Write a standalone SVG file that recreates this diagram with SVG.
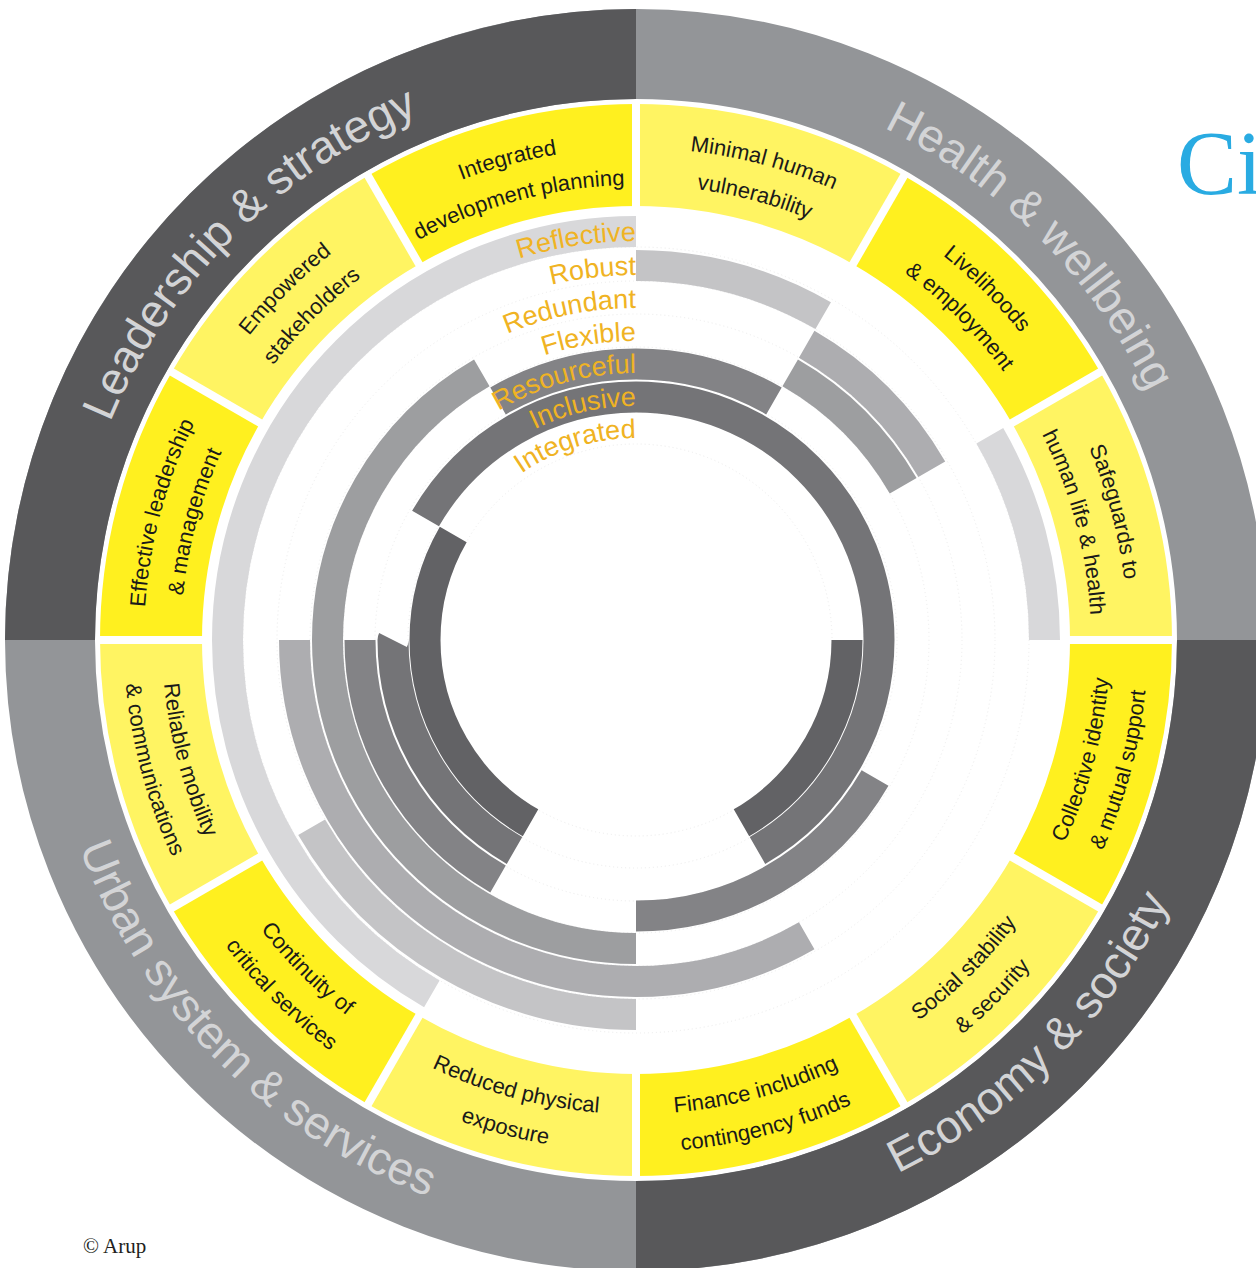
<svg xmlns="http://www.w3.org/2000/svg" width="1256" height="1268" viewBox="0 0 1256 1268">
<style>
.dk{fill:#58585a}
.ys{fill:none;stroke-width:102;stroke-dasharray:30 400}
.y1{stroke:#fff01f}
.y2{stroke:#fff462}
.b{fill:none;stroke-width:31}
.gap{stroke:#ffffff;stroke-width:8}
.guide{fill:none;stroke:#ececec;stroke-width:1;stroke-dasharray:1 3}
.lbl{font-family:"Liberation Sans",Arial,sans-serif;font-size:22px;fill:#1a1a1a;text-anchor:middle}
.ttl{font-family:"Liberation Sans",Arial,sans-serif;font-size:46px;fill:#d3d4d6;text-anchor:middle}
.bl{font-family:"Liberation Sans",Arial,sans-serif;font-size:27px;fill:#f0b323;stroke:none;text-anchor:end}
</style>
<defs>
<path id="tA" d="M 259.11 323.75 A 492 492 0 0 1 1012.89 323.75"/>
<path id="tB" d="M 287.45 347.53 A 455 455 0 0 1 984.55 347.53"/>
<path id="bA" d="M 272.90 944.68 A 474 474 0 0 0 999.10 944.68"/>
<path id="bB" d="M 243.79 969.11 A 512 512 0 0 0 1028.21 969.11"/>
<path id="pT" d="M 101.32 445.39 A 569 569 0 0 1 1170.68 445.39"/>
<path id="pB" d="M 77.82 843.16 A 594 594 0 0 0 1194.18 843.16"/>
<path id="r1" d="M 237 640 A 399 399 0 0 1 636 241"/>
<path id="r2" d="M 271 640 A 365 365 0 0 1 636 275"/>
<path id="r3" d="M 304 640 A 332 332 0 0 1 636 308"/>
<path id="r4" d="M 337 640 A 299 299 0 0 1 636 341"/>
<path id="r5" d="M 369 640 A 267 267 0 0 1 636 373"/>
<path id="r6" d="M 402 640 A 234 234 0 0 1 636 406"/>
<path id="r7" d="M 434 640 A 202 202 0 0 1 636 438"/>
<line id="gl" x1="1064" y1="640" x2="1176" y2="640"/>
</defs>
<rect width="1256" height="1268" fill="#ffffff"/>

<g id="outer-ring">
<circle cx="636" cy="640" r="586" fill="none" stroke="#939598" stroke-width="90"/>
</g>

<g id="q-leadership">
<path class="dk" d="M 5 640 A 631 631 0 0 1 636 9 L 636 99 A 541 541 0 0 0 95 640 Z"/>
<text class="ttl" transform="rotate(-45 636 640)"><textPath href="#pT" startOffset="50%">Leadership &amp; strategy</textPath></text>
</g>
<g id="q-health">
<text class="ttl" transform="rotate(45 636 640)"><textPath href="#pT" startOffset="50%">Health &amp; wellbeing</textPath></text>
</g>
<g id="q-economy">
<path class="dk" d="M 1267 640 A 631 631 0 0 1 636 1271 L 636 1181 A 541 541 0 0 0 1177 640 Z"/>
<text class="ttl" transform="rotate(-45 636 640)"><textPath href="#pB" startOffset="50%">Economy &amp; society</textPath></text>
</g>
<g id="q-urban">
<text class="ttl" transform="rotate(45 636 640)"><textPath href="#pB" startOffset="50%">Urban system &amp; services</textPath></text>
</g>

<g id="seg-collective">
<circle class="ys y1" cx="636" cy="640" r="485" pathLength="360" style="stroke-dashoffset:0"/>
<text class="lbl" transform="rotate(-75 636 640)"><textPath href="#bA" startOffset="50%">Collective identity</textPath></text>
<text class="lbl" transform="rotate(-75 636 640)"><textPath href="#bB" startOffset="50%">&amp; mutual support</textPath></text>
</g>
<g id="seg-social">
<circle class="ys y2" cx="636" cy="640" r="485" pathLength="360" style="stroke-dashoffset:-30"/>
<text class="lbl" transform="rotate(-45 636 640)"><textPath href="#bA" startOffset="50%">Social stability</textPath></text>
<text class="lbl" transform="rotate(-45 636 640)"><textPath href="#bB" startOffset="50%">&amp; security</textPath></text>
</g>
<g id="seg-finance">
<circle class="ys y1" cx="636" cy="640" r="485" pathLength="360" style="stroke-dashoffset:-60"/>
<text class="lbl" transform="rotate(-15 636 640)"><textPath href="#bA" startOffset="50%">Finance including</textPath></text>
<text class="lbl" transform="rotate(-15 636 640)"><textPath href="#bB" startOffset="50%">contingency funds</textPath></text>
</g>
<g id="seg-reduced">
<circle class="ys y2" cx="636" cy="640" r="485" pathLength="360" style="stroke-dashoffset:-90"/>
<text class="lbl" transform="rotate(15 636 640)"><textPath href="#bA" startOffset="50%">Reduced physical</textPath></text>
<text class="lbl" transform="rotate(15 636 640)"><textPath href="#bB" startOffset="50%">exposure</textPath></text>
</g>
<g id="seg-continuity">
<circle class="ys y1" cx="636" cy="640" r="485" pathLength="360" style="stroke-dashoffset:-120"/>
<text class="lbl" transform="rotate(45 636 640)"><textPath href="#bA" startOffset="50%">Continuity of</textPath></text>
<text class="lbl" transform="rotate(45 636 640)"><textPath href="#bB" startOffset="50%">critical services</textPath></text>
</g>
<g id="seg-reliable">
<circle class="ys y2" cx="636" cy="640" r="485" pathLength="360" style="stroke-dashoffset:-150"/>
<text class="lbl" transform="rotate(75 636 640)"><textPath href="#bA" startOffset="50%">Reliable mobility</textPath></text>
<text class="lbl" transform="rotate(75 636 640)"><textPath href="#bB" startOffset="50%">&amp; communications</textPath></text>
</g>
<g id="seg-effective">
<circle class="ys y1" cx="636" cy="640" r="485" pathLength="360" style="stroke-dashoffset:-180"/>
<text class="lbl" transform="rotate(-75 636 640)"><textPath href="#tA" startOffset="50%">Effective leadership</textPath></text>
<text class="lbl" transform="rotate(-75 636 640)"><textPath href="#tB" startOffset="50%">&amp; management</textPath></text>
</g>
<g id="seg-empowered">
<circle class="ys y2" cx="636" cy="640" r="485" pathLength="360" style="stroke-dashoffset:-210"/>
<text class="lbl" transform="rotate(-45 636 640)"><textPath href="#tA" startOffset="50%">Empowered</textPath></text>
<text class="lbl" transform="rotate(-45 636 640)"><textPath href="#tB" startOffset="50%">stakeholders</textPath></text>
</g>
<g id="seg-integrated-planning">
<circle class="ys y1" cx="636" cy="640" r="485" pathLength="360" style="stroke-dashoffset:-240"/>
<text class="lbl" transform="rotate(-15 636 640)"><textPath href="#tA" startOffset="50%">Integrated</textPath></text>
<text class="lbl" transform="rotate(-15 636 640)"><textPath href="#tB" startOffset="50%">development planning</textPath></text>
</g>
<g id="seg-minimal">
<circle class="ys y2" cx="636" cy="640" r="485" pathLength="360" style="stroke-dashoffset:-270"/>
<text class="lbl" transform="rotate(15 636 640)"><textPath href="#tA" startOffset="50%">Minimal human</textPath></text>
<text class="lbl" transform="rotate(15 636 640)"><textPath href="#tB" startOffset="50%">vulnerability</textPath></text>
</g>
<g id="seg-livelihoods">
<circle class="ys y1" cx="636" cy="640" r="485" pathLength="360" style="stroke-dashoffset:-300"/>
<text class="lbl" transform="rotate(45 636 640)"><textPath href="#tA" startOffset="50%">Livelihoods</textPath></text>
<text class="lbl" transform="rotate(45 636 640)"><textPath href="#tB" startOffset="50%">&amp; employment</textPath></text>
</g>
<g id="seg-safeguards">
<circle class="ys y2" cx="636" cy="640" r="485" pathLength="360" style="stroke-dashoffset:-330"/>
<text class="lbl" transform="rotate(75 636 640)"><textPath href="#tA" startOffset="50%">Safeguards to</textPath></text>
<text class="lbl" transform="rotate(75 636 640)"><textPath href="#tB" startOffset="50%">human life &amp; health</textPath></text>
</g>

<g id="segment-gaps" class="gap">
<use href="#gl"/>
<use href="#gl" transform="rotate(30 636 640)"/>
<use href="#gl" transform="rotate(60 636 640)"/>
<use href="#gl" transform="rotate(90 636 640)"/>
<use href="#gl" transform="rotate(120 636 640)"/>
<use href="#gl" transform="rotate(150 636 640)"/>
<use href="#gl" transform="rotate(180 636 640)"/>
<use href="#gl" transform="rotate(210 636 640)"/>
<use href="#gl" transform="rotate(240 636 640)"/>
<use href="#gl" transform="rotate(270 636 640)"/>
<use href="#gl" transform="rotate(300 636 640)"/>
<use href="#gl" transform="rotate(330 636 640)"/>
</g>

<g id="guides">
<circle class="guide" cx="636" cy="640" r="196"/>
<circle class="guide" cx="636" cy="640" r="228"/>
<circle class="guide" cx="636" cy="640" r="261"/>
<circle class="guide" cx="636" cy="640" r="293"/>
<circle class="guide" cx="636" cy="640" r="326"/>
<circle class="guide" cx="636" cy="640" r="359"/>
<circle class="guide" cx="636" cy="640" r="393"/>
</g>

<g id="band-reflective" stroke="#d8d8da">
<circle class="b" cx="636" cy="640" r="408.5" pathLength="360" style="stroke-dasharray:150 400;stroke-dashoffset:-120"/>
<circle class="b" cx="636" cy="640" r="408.5" pathLength="360" style="stroke-dasharray:30 400;stroke-dashoffset:-330"/>
<text class="bl"><textPath href="#r1" startOffset="100%">Reflective</textPath></text>
</g>
<g id="band-robust" stroke="#c4c4c6">
<circle class="b" cx="636" cy="640" r="374.5" pathLength="360" style="stroke-dasharray:60 400;stroke-dashoffset:-90"/>
<circle class="b" cx="636" cy="640" r="374.5" pathLength="360" style="stroke-dasharray:30 400;stroke-dashoffset:-270"/>
<text class="bl"><textPath href="#r2" startOffset="100%">Robust</textPath></text>
</g>
<g id="band-redundant" stroke="#adadb0">
<circle class="b" cx="636" cy="640" r="341.5" pathLength="360" style="stroke-dasharray:120 400;stroke-dashoffset:-60"/>
<circle class="b" cx="636" cy="640" r="341.5" pathLength="360" style="stroke-dasharray:30 400;stroke-dashoffset:-300"/>
<text class="bl"><textPath href="#r3" startOffset="100%">Redundant</textPath></text>
</g>
<g id="band-flexible" stroke="#9d9ea0">
<circle class="b" cx="636" cy="640" r="308.5" pathLength="360" style="stroke-dasharray:150 400;stroke-dashoffset:-90"/>
<circle class="b" cx="636" cy="640" r="308.5" pathLength="360" style="stroke-dasharray:30 400;stroke-dashoffset:-300"/>
<text class="bl"><textPath href="#r4" startOffset="100%">Flexible</textPath></text>
</g>
<g id="band-resourceful" stroke="#838386">
<circle class="b" cx="636" cy="640" r="276" pathLength="360" style="stroke-dasharray:60 400;stroke-dashoffset:-30"/>
<circle class="b" cx="636" cy="640" r="276" pathLength="360" style="stroke-dasharray:60 400;stroke-dashoffset:-120"/>
<circle class="b" cx="636" cy="640" r="276" pathLength="360" style="stroke-dasharray:60 400;stroke-dashoffset:-240"/>
<text class="bl"><textPath href="#r5" startOffset="100%">Resourceful</textPath></text>
</g>
<g id="band-inclusive" stroke="#747477">
<circle class="b" cx="636" cy="640" r="243" pathLength="360" style="stroke-dasharray:60 400;stroke-dashoffset:-120"/>
<circle class="b" cx="636" cy="640" r="243" pathLength="360" style="stroke-dasharray:150 400;stroke-dashoffset:-210"/>
<circle class="b" cx="636" cy="640" r="243" pathLength="360" style="stroke-dasharray:60 400;stroke-dashoffset:0"/>
<text class="bl"><textPath href="#r6" startOffset="100%">Inclusive</textPath></text>
</g>
<g id="band-integrated" stroke="#626265">
<circle class="b" cx="636" cy="640" r="211" pathLength="360" style="stroke-dasharray:60 400;stroke-dashoffset:0"/>
<circle class="b" cx="636" cy="640" r="211" pathLength="360" style="stroke-dasharray:90 400;stroke-dashoffset:-120"/>
<text class="bl"><textPath href="#r7" startOffset="100%">Integrated</textPath></text>
</g>

<g id="captions">
<text x="1177" y="194" font-family="'Liberation Serif','Times New Roman',serif" font-size="90" fill="#29abe2">Ci</text>
<text x="83" y="1253" font-family="'Liberation Serif','Times New Roman',serif" font-size="21" fill="#231f20">© Arup</text>
</g>
</svg>
